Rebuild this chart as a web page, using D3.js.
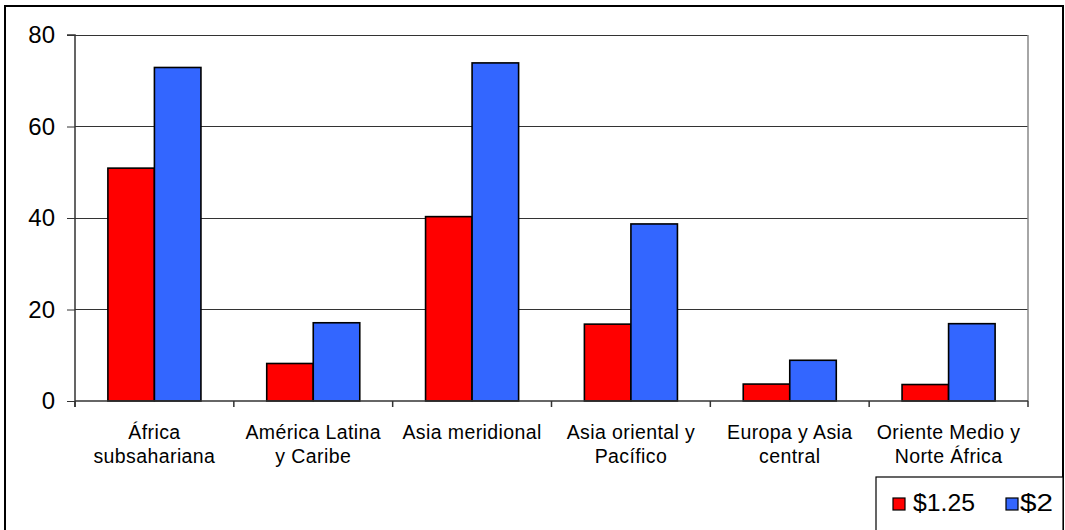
<!DOCTYPE html>
<html>
<head>
<meta charset="utf-8">
<script src="https://cdn.jsdelivr.net/npm/d3@7"></script>
<style>
  html, body { margin: 0; padding: 0; background: #fff; }
  svg { display: block; font-family: "Liberation Sans", Arial, sans-serif; }
</style>
</head>
<body>
<svg id="chart" width="1065" height="530"></svg>
<script>
// Regions (two-line labels) and poverty headcount shares (%)
const categories = [
  ["África", "subsahariana"],
  ["América Latina", "y Caribe"],
  ["Asia meridional"],
  ["Asia oriental y", "Pacífico"],
  ["Europa y Asia", "central"],
  ["Oriente Medio y", "Norte África"]
];
const seriesNames = ["$1.25", "$2"];
const values125 = [50.9, 8.2, 40.3, 16.8, 3.7, 3.6];
const values2 = [72.9, 17.1, 73.9, 38.7, 8.9, 16.9];
const yTicks = [0, 20, 40, 60, 80];
const colors = ["#FF0000", "#3366FF"];

const svg = d3.select("#chart");

// outer chart frame
svg.append("rect")
  .attr("x", 5).attr("y", 6)
  .attr("width", 1058).attr("height", 540)
  .attr("fill", "#fff").attr("stroke", "#000").attr("stroke-width", 2);

const plot = { left: 75, right: 1028, top: 35, bottom: 401 };

const keys = categories.map((c, i) => i);
const x0 = d3.scaleBand().domain(keys).range([plot.left, plot.right]).padding(0);
const x1 = d3.scaleBand().domain(seriesNames)
  .range([0, x0.bandwidth()]).paddingInner(0).paddingOuter(0.707);
const y = d3.scaleLinear().domain([0, 80]).range([plot.bottom, plot.top]);

// horizontal gridlines
svg.append("g").selectAll("line")
  .data(yTicks.filter(t => t > 0))
  .join("line")
  .attr("x1", plot.left).attr("x2", plot.right)
  .attr("y1", d => y(d)).attr("y2", d => y(d))
  .attr("stroke", "#333").attr("stroke-width", 1)
  .attr("shape-rendering", "crispEdges");

// right edge of plot area
svg.append("line")
  .attr("x1", plot.right).attr("x2", plot.right)
  .attr("y1", plot.top).attr("y2", plot.bottom)
  .attr("stroke", "#888").attr("stroke-width", 1.5);

// bars
const rows = keys.map(i => ({ i, vals: [values125[i], values2[i]] }));
const groups = svg.append("g").selectAll("g")
  .data(rows).join("g")
  .attr("transform", d => `translate(${x0(d.i)},0)`);
groups.selectAll("rect")
  .data(d => d.vals.map((v, k) => ({ key: seriesNames[k], v, k })))
  .join("rect")
  .attr("x", d => x1(d.key))
  .attr("y", d => y(d.v))
  .attr("width", x1.bandwidth())
  .attr("height", d => y(0) - y(d.v))
  .attr("fill", d => colors[d.k])
  .attr("stroke", "#000").attr("stroke-width", 1.6);

// y axis
const yAxis = d3.axisLeft(y).tickValues(yTicks).tickSize(8).tickPadding(12);
const gy = svg.append("g").attr("transform", `translate(${plot.left},0)`).call(yAxis);
gy.select(".domain").attr("stroke", "#333").attr("stroke-width", 1.5)
  .attr("d", `M-8,${plot.top}H0V${plot.bottom + 6}`);
gy.selectAll(".tick line").attr("stroke", "#333");
gy.selectAll(".tick text")
  .attr("font-size", 24).attr("fill", "#000")
  .attr("font-family", "Liberation Sans, Arial, sans-serif");

// x axis line with boundary ticks
const boundaries = d3.range(categories.length + 1).map(i => plot.left + i * x0.step());
svg.append("line")
  .attr("x1", plot.left).attr("x2", plot.right)
  .attr("y1", plot.bottom).attr("y2", plot.bottom)
  .attr("stroke", "#333").attr("stroke-width", 1.5);
svg.append("g").selectAll("line")
  .data(boundaries).join("line")
  .attr("x1", d => d).attr("x2", d => d)
  .attr("y1", plot.bottom).attr("y2", plot.bottom + 6)
  .attr("stroke", "#333").attr("stroke-width", 1.5);

// category labels
const lab = svg.append("g").selectAll("text")
  .data(categories.map((lines, i) => ({ lines, i })))
  .join("text")
  .attr("text-anchor", "middle")
  .attr("font-size", 19.5)
  .attr("letter-spacing", 0.4)
  .attr("fill", "#000");
lab.selectAll("tspan")
  .data(d => d.lines.map((t, j) => ({ t, j, i: d.i })))
  .join("tspan")
  .attr("x", d => x0(d.i) + x0.bandwidth() / 2)
  .attr("y", d => 439 + d.j * 24)
  .text(d => d.t);

// legend
const legend = svg.append("g");
legend.append("rect")
  .attr("x", 876).attr("y", 477)
  .attr("width", 187).attr("height", 80)
  .attr("fill", "#fff").attr("stroke", "#000").attr("stroke-width", 1.2);
const legendItems = [
  { name: seriesNames[0], c: colors[0], sx: 893, tx: 913, tw: 62 },
  { name: seriesNames[1], c: colors[1], sx: 1006, tx: 1020, tw: 33 }
];
legendItems.forEach(it => {
  legend.append("rect")
    .attr("x", it.sx).attr("y", 498).attr("width", 12).attr("height", 12)
    .attr("fill", it.c).attr("stroke", "#000").attr("stroke-width", 1.2);
  legend.append("text")
    .attr("x", it.tx).attr("y", 511)
    .attr("font-size", 23)
    .attr("textLength", it.tw).attr("lengthAdjust", "spacingAndGlyphs")
    .attr("fill", "#000")
    .text(it.name);
});
</script>
</body>
</html>
